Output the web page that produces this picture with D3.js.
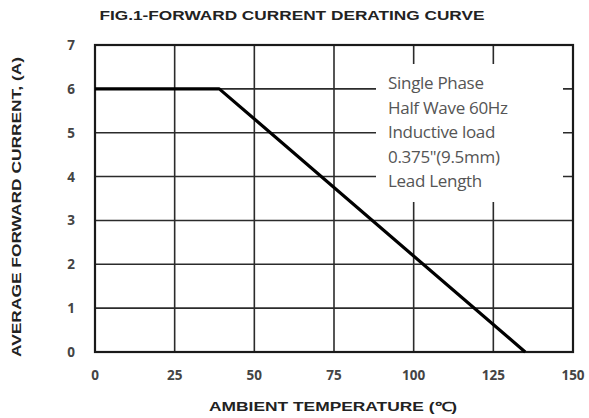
<!DOCTYPE html>
<html>
<head>
<meta charset="utf-8">
<script src="https://cdn.jsdelivr.net/npm/d3@7"></script>
<style>
  body { margin: 0; background: #fff; }
</style>
</head>
<body>
<script>
// Data

const xTicks = [0, 25, 50, 75, 100, 125, 150];
const yTicks = [0, 1, 2, 3, 4, 5, 6, 7];
const tempC = [0, 39, 135];
const currentA = [6, 6, 0];
const noteLines = ["Single Phase", "Half Wave 60Hz", "Inductive load", "0.375\"(9.5mm)", "Lead Length"];

// Dimensions

const width = 589, height = 418;
const plotL = 95, plotR = 573, plotT = 45, plotB = 352;

const svg = d3.select("body").append("svg")
  .attr("width", width)
  .attr("height", height);

const x = d3.scaleLinear().domain([0, 150]).range([plotL, plotR]);
const y = d3.scaleLinear().domain([0, 7]).range([plotB, plotT]);

const gridColor = "#2b2b2b";

// grid lines
svg.append("g").selectAll("line")
  .data(xTicks)
  .join("line")
  .attr("x1", d => x(d)).attr("x2", d => x(d))
  .attr("y1", plotT).attr("y2", plotB)
  .attr("stroke", gridColor).attr("stroke-width", 1.6);

svg.append("g").selectAll("line")
  .data(yTicks)
  .join("line")
  .attr("x1", plotL).attr("x2", plotR)
  .attr("y1", d => y(d)).attr("y2", d => y(d))
  .attr("stroke", gridColor).attr("stroke-width", 1.6);

// frame
svg.append("rect")
  .attr("x", plotL).attr("y", plotT)
  .attr("width", plotR - plotL).attr("height", plotB - plotT)
  .attr("fill", "none").attr("stroke", "#1a1a1a").attr("stroke-width", 2.2);

// white note box over the grid
svg.append("rect")
  .attr("x", 376).attr("y", 64)
  .attr("width", 187).attr("height", 138)
  .attr("fill", "#fff");

svg.append("g").selectAll("text")
  .data(noteLines)
  .join("text")
  .attr("x", 388)
  .attr("y", (d, i) => 89 + i * 24.5)
  .attr("font-family", "'Open Sans', 'Noto Sans', sans-serif")
  .attr("font-size", 17)
  .attr("letter-spacing", -0.3)
  .attr("fill", "#555")
  .text(d => d);

// derating curve
const pts = tempC.map((t, i) => ({ t: t, a: currentA[i] }));
svg.append("path")
  .datum(pts)
  .attr("fill", "none")
  .attr("stroke", "#000")
  .attr("stroke-width", 3.2)
  .attr("stroke-linejoin", "round")
  .attr("d", d3.line().x(d => x(d.t)).y(d => y(d.a)));

// tick labels
svg.append("g").selectAll("text")
  .data(xTicks)
  .join("text")
  .attr("x", d => x(d))
  .attr("y", 380)
  .attr("text-anchor", "middle")
  .attr("font-family", "'Open Sans', 'Noto Sans', sans-serif")
  .attr("font-size", 13.5)
  .attr("font-weight", "bold")
  .attr("fill", "#444")
  .text(d => d);

svg.append("g").selectAll("text")
  .data(yTicks)
  .join("text")
  .attr("x", 71)
  .attr("y", d => y(d) + 5)
  .attr("text-anchor", "middle")
  .attr("font-family", "'Open Sans', 'Noto Sans', sans-serif")
  .attr("font-size", 13.5)
  .attr("font-weight", "bold")
  .attr("fill", "#444")
  .text(d => d);

// titles
svg.append("text")
  .attr("x", 292).attr("y", 20)
  .attr("text-anchor", "middle")
  .attr("font-family", "'Liberation Sans', Arial, sans-serif")
  .attr("font-weight", "bold")
  .attr("font-size", 13.5)
  .attr("textLength", 385)
  .attr("lengthAdjust", "spacingAndGlyphs")
  .attr("fill", "#222")
  .text("FIG.1-FORWARD CURRENT DERATING CURVE");

svg.append("text")
  .attr("x", 333).attr("y", 411)
  .attr("text-anchor", "middle")
  .attr("font-family", "'Liberation Sans', Arial, sans-serif")
  .attr("font-weight", "bold")
  .attr("font-size", 12.5)
  .attr("textLength", 248)
  .attr("lengthAdjust", "spacingAndGlyphs")
  .attr("fill", "#222")
  .text("AMBIENT TEMPERATURE (℃)");

svg.append("text")
  .attr("transform", "translate(21,207) rotate(-90)")
  .attr("text-anchor", "middle")
  .attr("font-family", "'Liberation Sans', Arial, sans-serif")
  .attr("font-weight", "bold")
  .attr("font-size", 12)
  .attr("textLength", 300)
  .attr("lengthAdjust", "spacingAndGlyphs")
  .attr("fill", "#222")
  .text("AVERAGE  FORWARD CURRENT, (A)");
</script>
</body>
</html>
